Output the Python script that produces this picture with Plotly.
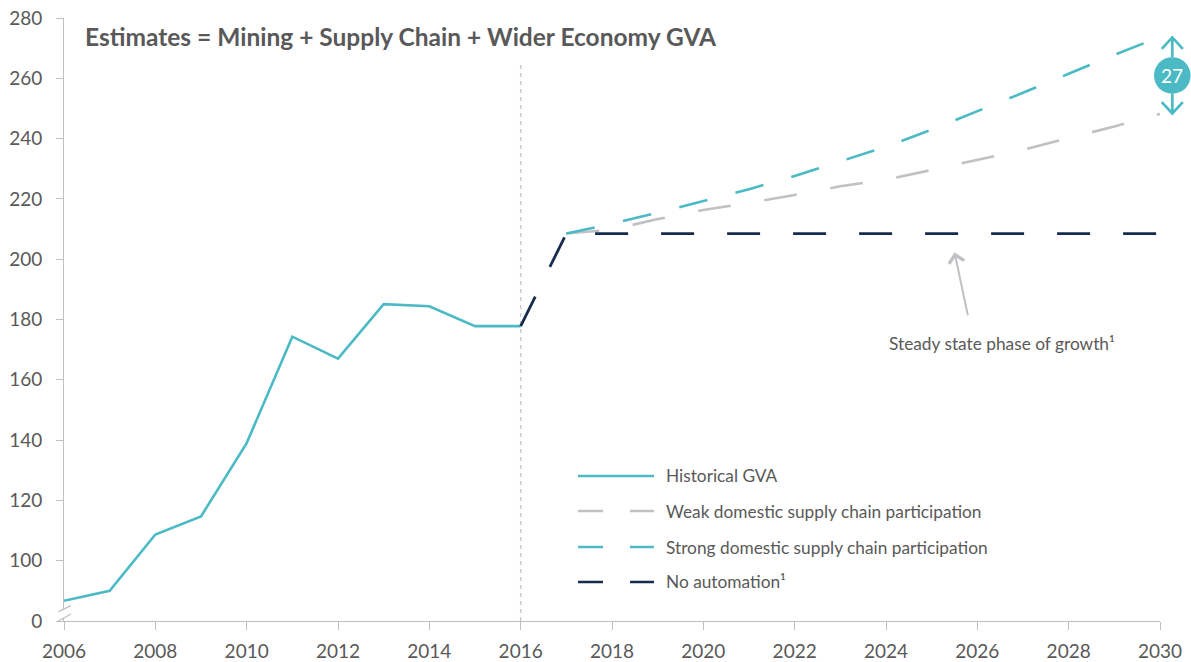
import plotly.graph_objects as go

# ---------------- data ----------------
hist_years = list(range(2006, 2017))
hist_values = [86.7, 90.0, 108.7, 114.7, 139.0, 174.3, 167.0, 185.1, 184.4, 177.8, 177.8]

fc_years = list(range(2017, 2031))
weak_values = [208.5, 209.8, 213.3, 216.3, 218.7, 221.3, 224.2, 226.4, 229.6, 233.0, 236.3, 240.2, 244.0, 248.2]
strong_values = [208.5, 211.8, 215.4, 219.2, 223.2, 227.6, 232.5, 237.3, 243.0, 249.0, 255.2, 261.5, 267.8, 273.7]

noauto_years = list(range(2016, 2031))
noauto_values = [177.8] + [208.5] * 14

series_names = ["Historical GVA",
                "Weak domestic supply chain participation",
                "Strong domestic supply chain participation",
                "No automation\u00b9"]

ytick_vals = [80, 100, 120, 140, 160, 180, 200, 220, 240, 260, 280]
ytick_text = ["0", "100", "120", "140", "160", "180", "200", "220", "240", "260", "280"]
xtick_vals = list(range(2006, 2031, 2))

title_text = "Estimates = Mining + Supply Chain + Wider Economy GVA"
note_text = "Steady state phase of growth\u00b9"
gap_label = "27"

# ---------------- style ----------------
TEAL = "#4bbac4"
GREY = "#c0c0c5"
NAVY = "#172c4c"
TXT = "#595959"
AX = "#bfbfbf"
FONT = "Lato"

colors = [TEAL, GREY, TEAL, NAVY]
dashes = ["solid", "33px,34px", "29px,29px", "33px,33px"]

fig = go.Figure()
fig.add_trace(go.Scatter(x=hist_years, y=hist_values, mode="lines", name=series_names[0],
                         line=dict(color=colors[0], width=2.6), showlegend=False))
fig.add_trace(go.Scatter(x=fc_years, y=weak_values, mode="lines", name=series_names[1],
                         line=dict(color=colors[1], width=2.6, dash=dashes[1]), showlegend=False))
fig.add_trace(go.Scatter(x=fc_years, y=strong_values, mode="lines", name=series_names[2],
                         line=dict(color=colors[2], width=2.6, dash=dashes[2]), showlegend=False))
fig.add_trace(go.Scatter(x=noauto_years, y=noauto_values, mode="lines", name=series_names[3],
                         line=dict(color=colors[3], width=2.8, dash=dashes[3]), showlegend=False))

shapes = []
# vertical dotted separator at last historical year
shapes.append(dict(type="line", xref="x", yref="y", x0=hist_years[-1], x1=hist_years[-1],
                   y0=80, y1=264.4, layer="below",
                   line=dict(color="#c8c8c8", width=1.5, dash="4px,4px")))

# manual legend
leg_y = [0.2405, 0.1824, 0.1227, 0.0647]
leg_dash = ["solid", "25px,27px", "25px,27px", "25px,27px"]
annotations = []
for name, col, dsh, yy in zip(series_names, colors, leg_dash, leg_y):
    shapes.append(dict(type="line", xref="paper", yref="paper", x0=0.469, x1=0.5383, y0=yy, y1=yy,
                       line=dict(color=col, width=2.6, dash=dsh)))
    annotations.append(dict(xref="paper", yref="paper", x=0.5475, y=yy, text=name, showarrow=False,
                            xanchor="left", yanchor="middle",
                            font=dict(family=FONT, size=17.3, color=TXT)))

# gap indicator circle + double arrow
cx = 1 + (1172.3 - 1160) / 1096
cy = (strong_values[-1] + weak_values[-1]) / 2
shapes.append(dict(type="path", xref="paper", yref="y", xsizemode="pixel", ysizemode="pixel",
                   xanchor=cx, yanchor=cy,
                   path="M0,18 L0,38 M-10.5,26.6 L0,38 L10.5,26.6 "
                        "M0,-18 L0,-38 M-10.5,-26.6 L0,-38 L10.5,-26.6",
                   line=dict(color=TEAL, width=2.7)))
shapes.append(dict(type="circle", xref="paper", yref="y", xsizemode="pixel", ysizemode="pixel",
                   xanchor=cx, yanchor=cy, x0=-18.3, x1=18.3, y0=-18.3, y1=18.3,
                   fillcolor=TEAL, line=dict(color=TEAL, width=0)))
annotations.append(dict(xref="paper", yref="y", x=cx, y=cy, text=gap_label, showarrow=False,
                        font=dict(family=FONT, size=19, color="white"),
                        xanchor="center", yanchor="middle"))

# y axis break marks
shapes.append(dict(type="path", xref="paper", yref="y", xsizemode="pixel", ysizemode="pixel",
                   xanchor=0, yanchor=82.65,
                   path="M-5.7,1.3 L7,7.3 L7,-1 L-5.7,-8 Z",
                   fillcolor="white", line=dict(width=0)))
shapes.append(dict(type="path", xref="paper", yref="y", xsizemode="pixel", ysizemode="pixel",
                   xanchor=0, yanchor=82.65,
                   path="M-5.7,1.3 L7,7.3 M-5.7,-8 L7,-1",
                   line=dict(color=AX, width=1.3)))

# title
annotations.append(dict(xref="paper", yref="paper", x=(83 - 64) / 1096, y=(621 - 37) / 603,
                        text="<b>" + title_text + "</b>", showarrow=False,
                        xanchor="left", yanchor="middle",
                        font=dict(family=FONT, size=24.5, color=TXT)))

# steady state note with arrow
annotations.append(dict(xref="x", yref="y", x=2025.5, y=202.3, axref="x", ayref="y",
                        ax=2025.8, ay=180.9, text="", showarrow=True,
                        arrowhead=4, arrowsize=1.5, arrowwidth=2, arrowcolor=GREY))
annotations.append(dict(xref="x", yref="y", x=2026.53, y=171.9, text=note_text, showarrow=False,
                        xanchor="center", yanchor="middle",
                        font=dict(family=FONT, size=17.3, color=TXT)))

fig.update_layout(
    width=1191, height=662,
    margin=dict(l=64, r=31, t=18, b=41, autoexpand=False),
    paper_bgcolor="white", plot_bgcolor="white",
    font=dict(family=FONT, color=TXT),
    shapes=shapes, annotations=annotations,
    showlegend=False,
)
fig.update_xaxes(range=[2006, 2030], tickvals=xtick_vals, ticktext=[str(v) for v in xtick_vals],
                 showgrid=False, zeroline=False, showline=True, linecolor=AX, linewidth=1,
                 ticks="outside", ticklen=8, tickcolor=AX, tickwidth=1, automargin=False,
                 tickfont=dict(family=FONT, size=19, color=TXT), ticklabelstandoff=5)
fig.update_yaxes(range=[80, 280], tickvals=ytick_vals, ticktext=ytick_text,
                 showgrid=False, zeroline=False, showline=True, linecolor=AX, linewidth=1,
                 ticks="outside", ticklen=7, tickcolor=AX, tickwidth=1, automargin=False,
                 tickfont=dict(family=FONT, size=19, color=TXT), ticklabelstandoff=10)

# remove the default 8px page margin so the figure fills the window exactly
fig.write_html("out.html", config={"displayModeBar": False},
               post_script="document.body.style.margin='0';")
